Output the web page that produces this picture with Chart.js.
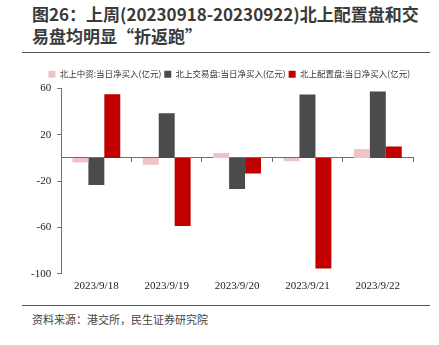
<!DOCTYPE html>
<html>
<head>
<meta charset="utf-8">
<script src="https://cdn.jsdelivr.net/npm/chart.js@4"></script>
<style>
  body { margin: 0; width: 439px; height: 345px; background: #fff; position: relative; overflow: hidden; }
  #title { position: absolute; left: 32px; top: 3px; width: 410px; font: bold 17px "Noto Sans CJK SC", sans-serif; line-height: 22px; color: #3a3a3a; white-space: nowrap; }
  .rule { position: absolute; left: 22px; width: 408px; height: 0; border-top: 1.5px solid #555; }
  #source { position: absolute; left: 32px; top: 311px; font: 11px "Noto Sans CJK SC", sans-serif; color: #444; }
  #wrap { position: absolute; left: 0; top: 65px; width: 439px; height: 236px; }
</style>
</head>
<body>
<div id="title">图26：上周(20230918-20230922)北上配置盘和交<br>易盘均明显“折返跑”</div>
<div class="rule" style="top:52px"></div>
<div id="wrap"><canvas id="chart"></canvas></div>
<div class="rule" style="top:305px"></div>
<div id="source">资料来源：港交所，民生证券研究院</div>
<script>
const categories = ["2023/9/18", "2023/9/19", "2023/9/20", "2023/9/21", "2023/9/22"];
const seriesNames = ["北上中资:当日净买入(亿元)", "北上交易盘:当日净买入(亿元)", "北上配置盘:当日净买入(亿元)"];
const chineseCapital = [-4.0, -5.8, 4.3, -2.9, 7.8];
const tradingFlow = [-23.4, 38.6, -26.8, 54.8, 57.4];
const allocationFlow = [55.0, -58.8, -13.3, -95.5, 10.0];
const yTicks = [60, 20, -20, -60, -100];
const colors = ["#f0c4c4", "#4b4b4d", "#c00000"];

const serif = "'Liberation Serif', 'DejaVu Serif', serif";

new Chart(document.getElementById("chart"), {
  type: "bar",
  data: {
    labels: categories,
    datasets: [chineseCapital, tradingFlow, allocationFlow].map((d, i) => ({
      label: seriesNames[i],
      data: d,
      backgroundColor: colors[i],
      xAxisID: "x",
      categoryPercentage: 0.68,
      barPercentage: 1
    }))
  },
  options: {
    responsive: true,
    maintainAspectRatio: false,
    animation: false,
    layout: { padding: { left: 25, right: 26, top: 2, bottom: 2 } },
    plugins: {
      tooltip: { enabled: false },
      legend: {
        align: "end",
        labels: {
          boxWidth: 7, boxHeight: 7, padding: 3,
          color: "#333",
          font: { size: 8.5, family: "'Noto Sans CJK SC', sans-serif" }
        }
      }
    },
    scales: {
      x: {
        position: { y: 0 },
        ticks: { display: false },
        grid: { drawOnChartArea: false, tickLength: 4, color: "#707070" },
        border: { color: "#707070" }
      },
      x2: {
        type: "category",
        position: "bottom",
        grid: { display: false, drawTicks: false },
        border: { display: false },
        ticks: { color: "#222", font: { size: 11, family: serif }, maxRotation: 0, padding: 6 }
      },
      y: {
        min: -100, max: 60,
        afterBuildTicks: s => { s.ticks = yTicks.map(v => ({ value: v })); },
        grid: { drawOnChartArea: false, tickLength: 4, color: "#707070" },
        border: { color: "#707070" },
        ticks: { color: "#222", font: { size: 11, family: serif }, padding: 6 }
      }
    }
  }
});
</script>
</body>
</html>
